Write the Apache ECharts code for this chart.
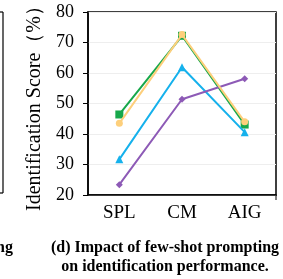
<!DOCTYPE html>
<html>
<head>
<meta charset="utf-8">
<script src="https://cdn.jsdelivr.net/npm/echarts@6/dist/echarts.min.js"></script>
<style>html,body{margin:0;padding:0;background:#fff;}#c{width:283px;height:279px;}</style>
</head>
<body>
<div id="c"></div>
<script>
const categories = ['SPL', 'CM', 'AIG'];
const yTicks = [20, 30, 40, 50, 60, 70, 80];
const seriesNames = ['green', 'yellow', 'blue', 'purple'];
const greenValues = [46.4, 72.2, 43.1];
const yellowValues = [43.5, 72.6, 44.0];
const blueValues = [31.7, 61.9, 40.6];
const purpleValues = [23.4, 51.4, 58.1];
const yLabel = 'Identification Score（%）';
const captionLines = ['(d) Impact of few-shot prompting', 'on identification performance.'];

const serif = '"Liberation Serif", "DejaVu Serif", serif';
const chart = echarts.init(document.getElementById('c'), null, {renderer: 'canvas'});

function mk(name, data, color, symbol, size, z) {
  return {
    name: name, type: 'line', data: data, symbol: symbol, symbolSize: size,
    z: z,
    lineStyle: {color: color, width: 2},
    itemStyle: {color: color},
    animation: false
  };
}

chart.setOption({
  animation: false,
  grid: {left: 88, right: 7, top: 12, bottom: 84, outerBoundsMode: 'none', containLabel: false, show: true, borderColor: '#000', borderWidth: 1.5, backgroundColor: 'transparent'},
  xAxis: {
    type: 'category', data: categories, boundaryGap: true,
    axisLine: {lineStyle: {color: '#000', width: 1.5}},
    axisTick: {alignWithLabel: true, length: 5, lineStyle: {color: '#000', width: 1}},
    axisLabel: {color: '#000', fontFamily: serif, fontSize: 19, margin: 9}
  },
  yAxis: {
    type: 'value', min: yTicks[0], max: yTicks[yTicks.length - 1], interval: 10,
    name: yLabel, nameLocation: 'middle', nameGap: 43,
    nameTextStyle: {color: '#000', fontFamily: serif, fontSize: 20},
    axisLine: {show: true, lineStyle: {color: '#000', width: 1.5}},
    axisTick: {show: true, length: 5, lineStyle: {color: '#000', width: 1}},
    axisLabel: {color: '#000', fontFamily: serif, fontSize: 18, margin: 14},
    splitLine: {show: true, lineStyle: {color: '#eeeeee', width: 1}}
  },
  series: [
    mk(seriesNames[0], greenValues, '#17a84b', 'rect', 8, 2),
    mk(seriesNames[2], blueValues, '#15b1ec', 'triangle', 8, 3),
    mk(seriesNames[3], purpleValues, '#8d5ab6', 'diamond', 7, 4),
    mk(seriesNames[1], yellowValues, '#fdcf7b', 'circle', 7, 5)
  ],
  graphic: [
    {type: 'line', shape: {x1: 3, y1: 12, x2: 3, y2: 193}, style: {stroke: '#000', lineWidth: 1.2}},
    {type: 'line', shape: {x1: 0, y1: 12, x2: 3, y2: 12}, style: {stroke: '#000', lineWidth: 1.2}},
    {type: 'line', shape: {x1: 0, y1: 193, x2: 3, y2: 193}, style: {stroke: '#000', lineWidth: 1.2}},
    {type: 'line', shape: {x1: 276, y1: 195, x2: 276, y2: 200}, style: {stroke: '#000', lineWidth: 1}},
    {type: 'text', x: 13, y: 248, style: {text: 'ng', fill: '#000', font: 'bold 16px ' + serif, textAlign: 'right', textVerticalAlign: 'middle'}},
    {type: 'text', x: 165, y: 248, style: {text: captionLines[0], fill: '#000', font: 'bold 16px ' + serif, textAlign: 'center', textVerticalAlign: 'middle'}},
    {type: 'text', x: 165, y: 267, style: {text: captionLines[1], fill: '#000', font: 'bold 16px ' + serif, textAlign: 'center', textVerticalAlign: 'middle'}}
  ]
});
</script>
</body>
</html>
